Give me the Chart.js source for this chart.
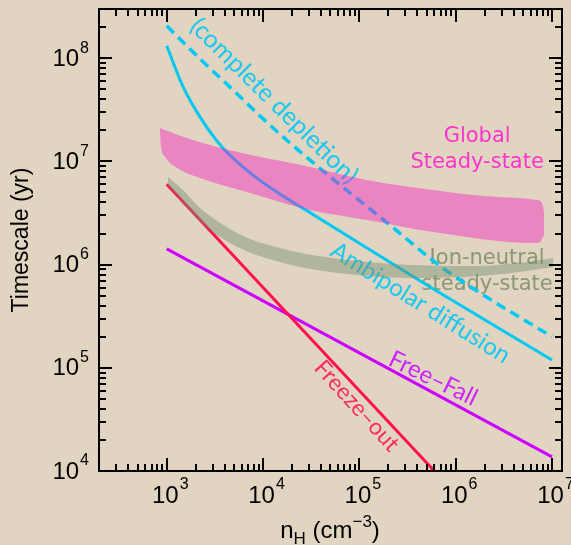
<!DOCTYPE html>
<html>
<head>
<meta charset="utf-8">
<script src="https://cdn.jsdelivr.net/npm/chart.js@4.4.1/dist/chart.umd.min.js"></script>
<style>
  html, body { margin: 0; padding: 0; background: #e1d5c1; }
  canvas { display: block; }
</style>
</head>
<body>
<canvas id="chart" width="571" height="545" style="width:571px;height:545px"></canvas>
<script>
// axis extent and decade labels
const xMin = 198, xMax = 1.27e7;
const yMin = 1e4, yMax = 3.0e8;
const xDecades = [3, 4, 5, 6, 7];
const yDecades = [4, 5, 6, 7, 8];

// ambipolar diffusion (solid cyan)
const ambipolarN = [1000, 1480, 2220, 3750, 7330, 16100, 36400, 542000, 1e7];
const ambipolarT = [1.32e8, 5.27e7, 2.69e7, 1.38e7, 7.75e6, 4.63e6, 2.9e6, 6.08e5, 1.19e5];

// complete depletion (dashed cyan)
const depletionN = [1000, 2220, 4880, 9300, 19000, 36400, 80000, 164000, 689000, 1.79e6, 1e7];
const depletionT = [2.06e8, 9.84e7, 4.93e7, 2.76e7, 1.51e7, 9.04e6, 4.95e6, 2.9e6, 9.7e5, 5.32e5, 2.0e5];

// freeze-out and free-fall
const freezeN = [1000, 6e5];
const freezeT = [6.0e6, 1.0e4];
const freeFallN = [1000, 1e7];
const freeFallT = [1.42e6, 1.37e4];

// global steady-state band
const globalTopN = [851, 1476, 3330, 7330, 30800, 120000, 582000, 2.89e6, 7.0e6, 8.08e6, 8.28e6];
const globalTopT = [2.11e7, 1.73e7, 1.38e7, 1.16e7, 8.85e6, 6.62e6, 5.3e6, 4.53e6, 4.24e6, 3.71e6, 3.03e6];
const globalBotN = [851, 871, 960, 1280, 2220, 7330, 30800, 120000, 582000, 6.35e6, 7.53e6, 8.28e6];
const globalBotT = [1.93e7, 1.41e7, 1.11e7, 8.65e6, 6.92e6, 4.95e6, 3.39e6, 2.71e6, 2.07e6, 1.62e6, 1.66e6, 1.94e6];

// ion-neutral steady-state band
const ionTopN = [1030, 1476, 2220, 4030, 7330, 15000, 24200, 74500, 360000, 1.79e6, 4.66e6, 1.03e7];
const ionTopT = [7.08e6, 5.3e6, 3.54e6, 2.37e6, 1.77e6, 1.45e6, 1.3e6, 1.11e6, 9.93e5, 9.7e5, 1.04e6, 1.16e6];
const ionBotN = [1030, 1476, 2220, 4030, 7330, 15000, 24200, 74500, 360000, 1.79e6, 4.66e6, 1.03e7];
const ionBotT = [5.8e6, 3.96e6, 2.59e6, 1.73e6, 1.3e6, 1.06e6, 9.5e5, 8.13e5, 7.43e5, 7.77e5, 8.5e5, 9.5e5];

const pts = (xs, ys) => xs.map((x, i) => ({ x: x, y: ys[i] }));

const CYAN = '#00c8f2';
const RED = '#ff1050';
const PURPLE = '#cc00ff';

// text labels placed in data coordinates
const labels = [
  { text: '(complete depletion)', x: 1.3e4, y: 3.86e7, angle: 44.5, color: '#18c8f0', font: '25px Lato', layer: 'under' },
  { text: 'Ambipolar diffusion', x: 4.3e5, y: 4.25e5, angle: 32, color: '#18c8f0', font: '24px Lato', layer: 'under' },
  { text: 'Free\u2013Fall', x: 5.85e5, y: 7.9e4, angle: 26, color: '#cc22ff', font: '24px Lato', layer: 'under' },
  { text: 'Freeze\u2013out', x: 9.4e4, y: 4.28e4, angle: 47.7, color: '#ff2a60', font: '23px Lato', layer: 'under' },
  { text: 'Global', x: 1.67e6, y: 1.73e7, angle: 0, color: '#ff33cc', font: '21px "DejaVu Sans"', layer: 'over' },
  { text: 'Steady-state', x: 1.67e6, y: 9.66e6, angle: 0, color: '#ff33cc', font: '21px "DejaVu Sans"', layer: 'over' },
  { text: 'Ion-neutral', x: 2.12e6, y: 1.14e6, angle: 0, color: 'rgba(115,135,100,0.8)', font: '21px "DejaVu Sans"', layer: 'under' },
  { text: 'steady-state', x: 2.12e6, y: 6.35e5, angle: 0, color: 'rgba(115,135,100,0.8)', font: '21px "DejaVu Sans"', layer: 'under' }
];

function drawLabels(chart, layer) {
  const ctx = chart.ctx;
  const xs = chart.scales.x, ys = chart.scales.y;
  ctx.save();
  labels.filter(l => l.layer === layer).forEach(l => {
    ctx.save();
    ctx.translate(xs.getPixelForValue(l.x), ys.getPixelForValue(l.y));
    ctx.rotate(l.angle * Math.PI / 180);
    ctx.font = l.font;
    ctx.fillStyle = l.color;
    ctx.textAlign = 'center';
    ctx.textBaseline = 'middle';
    ctx.fillText(l.text, 0, 0);
    ctx.restore();
  });
  ctx.restore();
}

// "10" with a raised exponent
function powerLabel(ctx, exp, x, y, align) {
  ctx.font = '24px "Liberation Sans"';
  const wBase = ctx.measureText('10').width;
  ctx.font = '16px "Liberation Sans"';
  const wExp = ctx.measureText(String(exp)).width;
  let x0;
  if (align === 'right') x0 = x - wBase - wExp;
  else x0 = x - (wBase + wExp) / 2;
  ctx.textAlign = 'left';
  ctx.textBaseline = 'middle';
  ctx.font = '24px "Liberation Sans"';
  ctx.fillText('10', x0, y);
  ctx.font = '16px "Liberation Sans"';
  ctx.fillText(String(exp), x0 + wBase + 1, y - 11);
}

const axesPlugin = {
  id: 'axesPlugin',
  beforeDatasetsDraw(chart) {
    drawLabels(chart, 'under');
  },
  afterDraw(chart) {
    const ctx = chart.ctx;
    const xs = chart.scales.x, ys = chart.scales.y;
    const { left, right, top, bottom } = chart.chartArea;
    ctx.save();
    drawLabels(chart, 'over');

    ctx.strokeStyle = '#000';
    ctx.fillStyle = '#000';
    ctx.lineWidth = 2;
    ctx.strokeRect(left, top, right - left, bottom - top);

    ctx.beginPath();
    for (let d = 2; d <= 7; d++) {
      for (let m = 1; m <= 9; m++) {
        const v = m * Math.pow(10, d);
        if (v <= xMin || v >= xMax) continue;
        const px = Math.round(xs.getPixelForValue(v));
        const len = m === 1 ? 13 : 7;
        ctx.moveTo(px, bottom); ctx.lineTo(px, bottom - len);
        ctx.moveTo(px, top); ctx.lineTo(px, top + len);
      }
    }
    for (let d = 4; d <= 8; d++) {
      for (let m = 1; m <= 9; m++) {
        const v = m * Math.pow(10, d);
        if (v < yMin || v >= yMax) continue;
        const py = Math.round(ys.getPixelForValue(v));
        const len = m === 1 ? 13 : 7;
        ctx.moveTo(left, py); ctx.lineTo(left + len, py);
        ctx.moveTo(right, py); ctx.lineTo(right - len, py);
      }
    }
    ctx.stroke();

    // tick labels
    yDecades.forEach(e => {
      powerLabel(ctx, e, 88, ys.getPixelForValue(Math.pow(10, e)) + 1, 'right');
    });
    xDecades.forEach(e => {
      powerLabel(ctx, e, xs.getPixelForValue(Math.pow(10, e)) + 3, 496, 'center');
    });

    // y title
    ctx.save();
    ctx.translate(22, 240);
    ctx.rotate(-Math.PI / 2);
    ctx.font = '23px "Liberation Sans"';
    ctx.textAlign = 'center';
    ctx.textBaseline = 'middle';
    ctx.fillText('Timescale (yr)', 0, 0);
    ctx.restore();

    // x title: n_H (cm^-3)
    const parts = [
      { t: 'n', f: '24px "Liberation Sans"', dy: 0 },
      { t: 'H', f: '17px "Liberation Sans"', dy: 6 },
      { t: ' (cm', f: '24px "Liberation Sans"', dy: 0 },
      { t: '\u22123', f: '17px "Liberation Sans"', dy: -11 },
      { t: ')', f: '24px "Liberation Sans"', dy: 0 }
    ];
    let total = 0;
    parts.forEach(p => { ctx.font = p.f; p.w = ctx.measureText(p.t).width; total += p.w; });
    let cx = 330 - total / 2;
    ctx.textAlign = 'left';
    ctx.textBaseline = 'alphabetic';
    parts.forEach(p => { ctx.font = p.f; ctx.fillText(p.t, cx, 538 + p.dy); cx += p.w; });
    ctx.restore();
  }
};

new Chart(document.getElementById('chart'), {
  type: 'line',
  data: {
    datasets: [
      { label: 'Global top', data: pts(globalTopN, globalTopT), borderWidth: 0, borderColor: 'rgba(0,0,0,0)',
        backgroundColor: 'rgba(250,25,195,0.42)', fill: 1, cubicInterpolationMode: 'monotone' },
      { label: 'Global bottom', data: pts(globalBotN, globalBotT), borderWidth: 0, borderColor: 'rgba(0,0,0,0)',
        fill: false, cubicInterpolationMode: 'monotone' },
      { label: 'Ion top', data: pts(ionTopN, ionTopT), borderWidth: 0, borderColor: 'rgba(0,0,0,0)',
        backgroundColor: 'rgba(116,144,111,0.45)', fill: 3, cubicInterpolationMode: 'monotone' },
      { label: 'Ion bottom', data: pts(ionBotN, ionBotT), borderWidth: 0, borderColor: 'rgba(0,0,0,0)',
        fill: false, cubicInterpolationMode: 'monotone' },
      { label: 'Ambipolar diffusion', data: pts(ambipolarN, ambipolarT), borderColor: CYAN, borderWidth: 3,
        fill: false, cubicInterpolationMode: 'monotone' },
      { label: 'Complete depletion', data: pts(depletionN, depletionT), borderColor: CYAN, borderWidth: 3.5,
        borderDash: [10, 6], fill: false, cubicInterpolationMode: 'monotone' },
      { label: 'Freeze-out', data: pts(freezeN, freezeT), borderColor: RED, borderWidth: 3, fill: false },
      { label: 'Free-Fall', data: pts(freeFallN, freeFallT), borderColor: PURPLE, borderWidth: 3, fill: false }
    ]
  },
  options: {
    responsive: false,
    animation: false,
    layout: { padding: { left: 99, right: 9, top: 9, bottom: 74 } },
    elements: { point: { radius: 0, hoverRadius: 0 } },
    scales: {
      x: { type: 'logarithmic', min: xMin, max: xMax, display: false },
      y: { type: 'logarithmic', min: yMin, max: yMax, display: false }
    },
    plugins: {
      legend: { display: false },
      tooltip: { enabled: false }
    }
  },
  plugins: [axesPlugin]
});
</script>
</body>
</html>
